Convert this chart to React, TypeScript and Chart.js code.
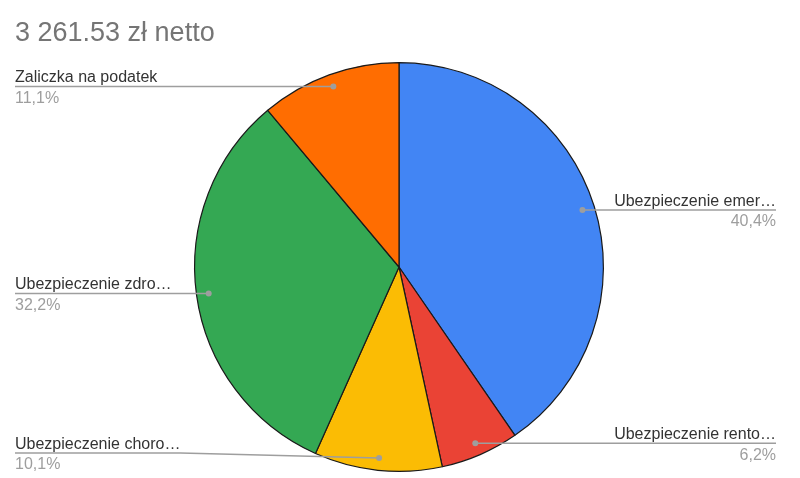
import React, { useEffect, useRef } from 'react';
import { Chart, registerables } from 'chart.js';
Chart.register(...registerables);

const TITLE = '3 261.53 zł netto';
const labels = [
  'Ubezpieczenie emer…',
  'Ubezpieczenie rento…',
  'Ubezpieczenie choro…',
  'Ubezpieczenie zdro…',
  'Zaliczka na podatek',
];
const values = [40.4, 6.2, 10.1, 32.2, 11.1];
const percentLabels = ['40,4%', '6,2%', '10,1%', '32,2%', '11,1%'];
const colors = ['#4285f4', '#ea4335', '#fbbc04', '#34a853', '#ff6d01'];

const FONT = '"Liberation Sans", Arial, sans-serif';

const outsideLabels = {
  id: 'outsideLabels',
  afterDatasetsDraw(chart: any) {
    const ctx = chart.ctx;
    const meta = chart.getDatasetMeta(0);
    const leftX = 15;
    const rightX = chart.width - 24;
    const maxY = chart.height - 25;
    ctx.save();
    // title
    ctx.fillStyle = '#757575';
    ctx.font = `27px ${FONT}`;
    ctx.textBaseline = 'alphabetic';
    ctx.textAlign = 'left';
    ctx.fillText(TITLE, 15, 41);

    meta.data.forEach((arc: any, i: number) => {
      const p = arc.getProps(['x', 'y', 'startAngle', 'endAngle', 'outerRadius'], true);
      const mid = (p.startAngle + p.endAngle) / 2;
      const rr = p.outerRadius * 0.94;
      const dx = p.x + Math.cos(mid) * rr;
      const dy = p.y + Math.sin(mid) * rr;
      const right = Math.cos(mid) > 0;
      const ly = Math.min(dy, maxY);
      ctx.font = `16px ${FONT}`;
      const w = ctx.measureText(labels[i]).width;
      ctx.strokeStyle = '#9e9e9e';
      ctx.lineWidth = 1.5;
      ctx.beginPath();
      if (right) {
        ctx.moveTo(dx, dy);
        if (ly !== dy) ctx.lineTo(rightX - w, ly);
        ctx.lineTo(rightX, ly);
      } else {
        ctx.moveTo(leftX, ly);
        ctx.lineTo(leftX + w, ly);
        ctx.lineTo(dx, dy);
      }
      ctx.stroke();
      ctx.fillStyle = '#9e9e9e';
      ctx.beginPath();
      ctx.arc(dx, dy, 3, 0, Math.PI * 2);
      ctx.fill();

      ctx.textAlign = right ? 'right' : 'left';
      const tx = right ? rightX : leftX;
      ctx.fillStyle = '#333333';
      ctx.textBaseline = 'alphabetic';
      ctx.fillText(labels[i], tx, ly - 4);
      ctx.fillStyle = '#9e9e9e';
      ctx.textBaseline = 'top';
      ctx.fillText(percentLabels[i], tx, ly + 4);
    });
    ctx.restore();
  },
};

export default function App() {
  const chartRef = useRef<HTMLCanvasElement>(null);

  useEffect(() => {
    document.body.style.margin = '0';
    const chart = new Chart(chartRef.current as HTMLCanvasElement, {
      type: 'pie',
      data: {
        labels,
        datasets: [
          {
            data: values,
            backgroundColor: colors,
            borderColor: '#1a1a1a',
            borderWidth: 1.2,
          },
        ],
      },
      options: {
        animation: false,
        responsive: false,
        layout: { padding: { top: 62, bottom: 6, left: 0, right: 2 } },
        plugins: {
          legend: { display: false },
          tooltip: { enabled: false },
        },
      },
      plugins: [outsideLabels],
    });
    return () => {
      chart.destroy();
    };
  }, []);

  return (
    <div style={{ width: 800, height: 478, background: '#fff' }}>
      <canvas ref={chartRef} width={800} height={478} />
    </div>
  );
}
